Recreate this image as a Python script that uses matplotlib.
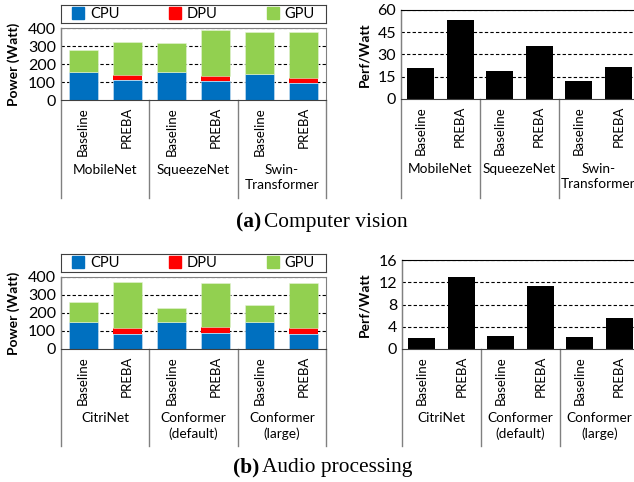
import numpy as np
import matplotlib
matplotlib.use("Agg")
import matplotlib.pyplot as plt
from matplotlib.patches import Patch

plt.rcParams['font.family'] = ['Lato', 'DejaVu Sans']

# data
systems = ['Baseline', 'PREBA']
cv_models = ['MobileNet', 'SqueezeNet', 'Swin-\nTransformer']
au_models = ['CitriNet', 'Conformer\n(default)', 'Conformer\n(large)']

cv_cpu = [156, 109, 154, 105, 146, 92]
cv_dpu = [0, 32, 0, 30, 0, 28]
cv_gpu = [122, 182, 160, 255, 230, 259]
cv_ppw = [21.0, 53.2, 19.0, 35.9, 12.2, 21.7]

au_cpu = [150, 86, 150, 88, 150, 86]
au_dpu = [0, 30, 0, 33, 0, 30]
au_gpu = [112, 258, 78, 247, 93, 250]
au_ppw = [1.9, 12.9, 2.26, 11.3, 2.08, 5.65]

CPU_C, DPU_C, GPU_C = '#0070C0', '#FF0000', '#92D050'
W, H = 634, 482


def rect(l, t, r, b):
    return [l / W, 1 - b / H, (r - l) / W, (b - t) / H]


def category_axis(ax, models, ax_h, line_px, label_px):
    x = np.arange(len(models) * len(systems))
    ax.set_xlim(-0.5, len(x) - 0.5)
    ax.set_xticks(x)
    ax.set_xticklabels(systems * len(models), rotation=90, va='top', fontsize=9.5)
    ax.tick_params(axis='x', length=0, pad=5)
    ax.tick_params(axis='y', length=0, labelsize=11.5, pad=3.5)
    trans = ax.get_xaxis_transform()
    for k in range(len(models) + 1):
        xs = -0.5 + 2 * k
        ax.plot([xs, xs], [1 if k == 0 else 0, -line_px / ax_h], transform=trans,
                color='#808080', lw=1, clip_on=False)
    for k, m in enumerate(models):
        ax.annotate(m, xy=(0.5 + 2 * k, 0), xycoords=trans,
                    xytext=(0, -label_px * 0.72), textcoords='offset points',
                    ha='center', va='top', fontsize=9.8, linespacing=1.3)


def grid_lines(ax, ticks):
    for t in ticks[1:]:
        ax.axhline(t, color='black', lw=0.8, ls=(0, (3, 2)), zorder=0.5)


def power_panel(fig, box, leg_box, models, cpu, dpu, gpu, line_px, label_px):
    ax = fig.add_axes(rect(*box))
    ax_h = box[3] - box[1]
    x = np.arange(len(cpu))
    bottom2 = np.array(cpu) + np.array(dpu)
    ax.bar(x, cpu, 0.66, color=CPU_C, edgecolor='#cfe3f3', lw=0.4, zorder=2)
    ax.bar(x, dpu, 0.66, bottom=cpu, color=DPU_C, lw=0, zorder=2)
    ax.bar(x, gpu, 0.66, bottom=bottom2, color=GPU_C, edgecolor='#e4f3d5', lw=0.4, zorder=2)
    ticks = [0, 100, 200, 300, 400]
    ax.set_ylim(0, 400)
    ax.set_yticks(ticks)
    grid_lines(ax, ticks)
    for s in ['top', 'right', 'left']:
        ax.spines[s].set_color('#808080')
    ax.spines['bottom'].set_color('#404040')
    ax.set_ylabel('Power (Watt)', fontweight='bold', fontsize=10)
    ax.yaxis.set_label_coords((20 - box[0]) / (box[2] - box[0]), 0.5)
    category_axis(ax, models, ax_h, line_px, label_px)

    lax = fig.add_axes(rect(*leg_box))
    lax.set_xticks([])
    lax.set_yticks([])
    for s in lax.spines.values():
        s.set_color('#404040')
    handles = [Patch(color=CPU_C, label='CPU'), Patch(color=DPU_C, label='DPU'),
               Patch(color=GPU_C, label='GPU')]
    lax.legend(handles=handles, loc='center', ncol=3, frameon=False, fontsize=10.5,
               handlelength=0.8, handleheight=0.8, handletextpad=0.4,
               columnspacing=3.4, borderaxespad=0, borderpad=0)
    return ax


def ppw_panel(fig, box, models, vals, ymax, step, line_px, label_px):
    ax = fig.add_axes(rect(*box))
    ax_h = box[3] - box[1]
    x = np.arange(len(vals))
    ax.bar(x, vals, 0.68, color='black', zorder=2)
    ticks = list(range(0, ymax + 1, step))
    ax.set_ylim(0, ymax)
    ax.set_yticks(ticks)
    grid_lines(ax, ticks)
    ax.spines['right'].set_visible(False)
    ax.spines['left'].set_color('#808080')
    ax.spines['top'].set_color('black')
    ax.spines['bottom'].set_color('#404040')
    ax.set_ylabel('Perf/Watt', fontweight='bold', fontsize=10)
    ax.yaxis.set_label_coords((370 - box[0]) / (box[2] - box[0]), 0.5)
    category_axis(ax, models, ax_h, line_px, label_px)
    return ax


fig = plt.figure(figsize=(W / 100, H / 100), dpi=100)

power_panel(fig, (61, 28, 326, 100), (61, 5, 326, 23), cv_models,
            cv_cpu, cv_dpu, cv_gpu, 98, 64)
ppw_panel(fig, (401, 10, 638, 99), cv_models, cv_ppw, 60, 15, 99, 64)

power_panel(fig, (61, 277, 326, 349), (61, 254, 326, 272), au_models,
            au_cpu, au_dpu, au_gpu, 97, 63)
ppw_panel(fig, (402, 260, 639, 349), au_models, au_ppw, 16, 4, 97, 63)

# sub-figure captions
serif = ['Liberation Serif', 'DejaVu Serif']
fig.text(261 / W, 1 - 227 / H, '(a)', ha='right', va='baseline', fontsize=15.4,
         fontweight='bold', family=serif)
fig.text(264 / W, 1 - 227 / H, 'Computer vision', ha='left', va='baseline',
         fontsize=15.4, family=serif)
fig.text(259 / W, 1 - 472 / H, '(b)', ha='right', va='baseline', fontsize=15.4,
         fontweight='bold', family=serif)
fig.text(262 / W, 1 - 472 / H, 'Audio processing', ha='left', va='baseline',
         fontsize=15.4, family=serif)

fig.savefig('out.png', dpi=100)
